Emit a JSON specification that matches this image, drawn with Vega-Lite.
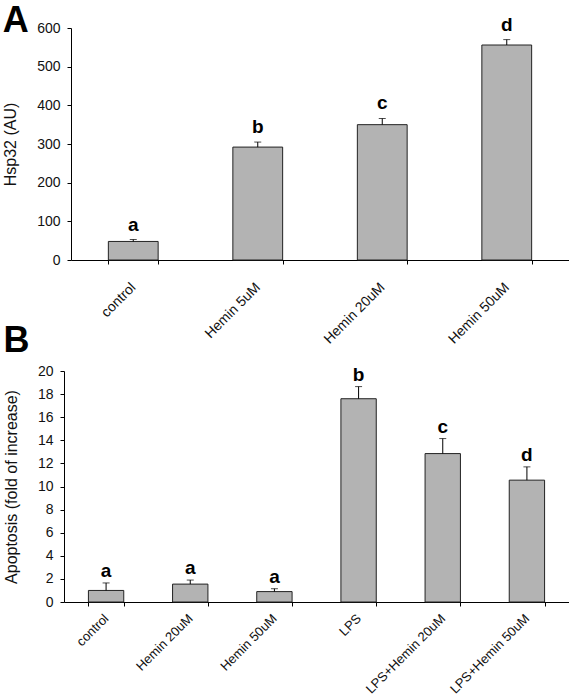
{
  "$schema": "https://vega.github.io/schema/vega-lite/v6.json",
  "padding": {"left": 2, "top": 2, "right": 0, "bottom": 0},
  "bounds": "flush",
  "spacing": 111,
  "background": "white",
  "config": {
    "font": "Liberation Sans",
    "view": {"stroke": null},
    "axis": {
      "grid": false,
      "domainColor": "#000",
      "tickColor": "#000",
      "labelColor": "#111",
      "titleColor": "#111",
      "labelFont": "Liberation Sans",
      "titleFont": "Liberation Sans",
      "labelFontSize": 14,
      "titleFontSize": 16,
      "titleFontWeight": "normal",
      "tickSize": 4,
      "labelPadding": 7,
      "titlePadding": 18
    },
    "title": {"font": "Liberation Sans"}
  },
  "vconcat": [
    {
      "title": {"text": "A", "anchor": "start", "frame": "bounds", "fontSize": 36, "fontWeight": "bold", "color": "#000", "offset": -24},
      "width": 505,
      "height": 232,
      "data": {"values": [
        {"group": "control", "value": 48, "upper": 53, "letter": "a"},
        {"group": "Hemin 5uM", "value": 292, "upper": 305, "letter": "b"},
        {"group": "Hemin 20uM", "value": 350, "upper": 366, "letter": "c"},
        {"group": "Hemin 50uM", "value": 556, "upper": 570, "letter": "d"}
      ]},
      "encoding": {
        "x": {"field": "group", "type": "nominal", "sort": null,
          "scale": {"range": [7, 505], "paddingInner": 0.6, "paddingOuter": 0.3},
          "axis": {"title": null, "labelAngle": -45, "tickBand": "extent", "labelPadding": 21, "labelBaseline": "middle", "labelAlign": "right"}}
      },
      "layer": [
        {"mark": {"type": "bar", "fill": "#b3b3b3", "stroke": "#222", "strokeWidth": 1},
         "encoding": {"y": {"field": "value", "type": "quantitative", "title": "Hsp32 (AU)", "scale": {"domain": [0, 600]},
           "axis": {"values": [0, 100, 200, 300, 400, 500, 600], "offset": -7}}}},
        {"mark": {"type": "rule", "color": "#000", "strokeWidth": 1},
         "encoding": {"y": {"field": "value", "type": "quantitative", "title": "Hsp32 (AU)", "axis": {"values": [0, 100, 200, 300, 400, 500, 600], "offset": -7}}, "y2": {"field": "upper"}}},
        {"mark": {"type": "tick", "color": "#000", "size": 7, "thickness": 1},
         "encoding": {"y": {"field": "upper", "type": "quantitative", "title": "Hsp32 (AU)", "axis": {"values": [0, 100, 200, 300, 400, 500, 600], "offset": -7}}}},
        {"mark": {"type": "text", "fontSize": 19, "fontWeight": "bold", "baseline": "alphabetic", "dy": -9, "color": "#000"},
         "encoding": {"y": {"field": "upper", "type": "quantitative", "title": "Hsp32 (AU)", "axis": {"values": [0, 100, 200, 300, 400, 500, 600], "offset": -7}}, "text": {"field": "letter"}}}
      ]
    },
    {
      "title": {"text": "B", "anchor": "start", "frame": "bounds", "fontSize": 36, "fontWeight": "bold", "color": "#000"},
      "width": 505,
      "height": 231,
      "data": {"values": [
        {"group": "control", "value": 1.0, "upper": 1.65, "letter": "a"},
        {"group": "Hemin 20uM", "value": 1.55, "upper": 1.9, "letter": "a"},
        {"group": "Hemin 50uM", "value": 0.9, "upper": 1.15, "letter": "a"},
        {"group": "LPS", "value": 17.6, "upper": 18.65, "letter": "b"},
        {"group": "LPS+Hemin 20uM", "value": 12.85, "upper": 14.15, "letter": "c"},
        {"group": "LPS+Hemin 50uM", "value": 10.55, "upper": 11.7, "letter": "d"}
      ]},
      "encoding": {
        "x": {"field": "group", "type": "nominal", "sort": null,
          "scale": {"paddingInner": 0.58, "paddingOuter": 0.29},
          "axis": {"title": null, "labelAngle": -45, "tickBand": "extent", "labelPadding": 10, "labelFontSize": 13, "labelBaseline": "middle", "labelAlign": "right"}}
      },
      "layer": [
        {"mark": {"type": "bar", "fill": "#b3b3b3", "stroke": "#222", "strokeWidth": 1},
         "encoding": {"y": {"field": "value", "type": "quantitative", "title": "Apoptosis (fold of increase)", "scale": {"domain": [0, 20]},
           "axis": {"values": [0, 2, 4, 6, 8, 10, 12, 14, 16, 18, 20]}}}},
        {"mark": {"type": "rule", "color": "#000", "strokeWidth": 1},
         "encoding": {"y": {"field": "value", "type": "quantitative", "title": "Apoptosis (fold of increase)", "axis": {"values": [0, 2, 4, 6, 8, 10, 12, 14, 16, 18, 20]}}, "y2": {"field": "upper"}}},
        {"mark": {"type": "tick", "color": "#000", "size": 7, "thickness": 1},
         "encoding": {"y": {"field": "upper", "type": "quantitative", "title": "Apoptosis (fold of increase)", "axis": {"values": [0, 2, 4, 6, 8, 10, 12, 14, 16, 18, 20]}}}},
        {"mark": {"type": "text", "fontSize": 19, "fontWeight": "bold", "baseline": "alphabetic", "dy": -6, "color": "#000"},
         "encoding": {"y": {"field": "upper", "type": "quantitative", "title": "Apoptosis (fold of increase)", "axis": {"values": [0, 2, 4, 6, 8, 10, 12, 14, 16, 18, 20]}}, "text": {"field": "letter"}}}
      ]
    }
  ]
}
